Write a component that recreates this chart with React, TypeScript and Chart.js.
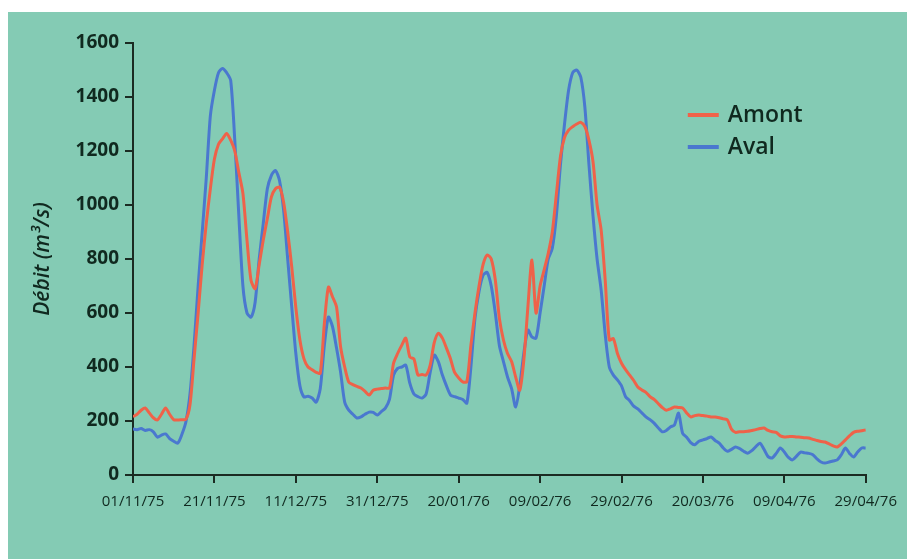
import React, { useEffect, useRef } from "react";
import { Chart, registerables } from "chart.js";

Chart.register(...registerables);

const tickLabels = [
  "01/11/75", "21/11/75", "11/12/75", "31/12/75", "20/01/76",
  "09/02/76", "29/02/76", "20/03/76", "09/04/76", "29/04/76",
];

const yTicks = [0, 200, 400, 600, 800, 1000, 1200, 1400, 1600];

// Daily discharge, 01/11/75 .. 29/04/76 (181 days)
const amont = [
  216, 225, 240, 248, 230, 212, 204, 225, 248, 225,
  205, 204, 205, 206, 260, 430, 600, 780, 932, 1060,
  1170, 1225, 1245, 1265, 1240, 1200, 1120, 1043, 870, 720,
  690, 780, 870, 950, 1030, 1060, 1066, 1010, 900, 770,
  620, 500, 430, 400, 390, 380, 377, 560, 696, 660,
  622, 474, 400, 344, 335, 328, 322, 310, 296, 314,
  318, 320, 322, 322, 414, 450, 480, 507, 437, 430,
  370, 372, 370, 407, 490, 525, 507, 470, 430, 380,
  360, 345, 345, 480, 600, 700, 780, 815, 800, 722,
  580, 500, 450, 420, 363, 314, 425, 622, 796, 600,
  700, 760, 821, 900, 1040, 1180, 1250, 1277, 1290, 1300,
  1306, 1290, 1240, 1160, 1000, 907, 720, 500, 505, 450,
  414, 390, 370, 350, 326, 315, 306, 290, 280, 265,
  250, 240, 245, 252, 250, 248, 230, 215, 220, 222,
  220, 218, 215, 215, 212, 208, 204, 170, 158, 160,
  160, 162, 165, 168, 172, 174, 165, 160, 158, 145,
  141, 142, 143, 141, 140, 138, 137, 132, 128, 124,
  122, 115, 108, 104, 115, 130, 145, 158, 162, 164,
  167,
];

const aval = [
  170, 168, 172, 165, 168, 160, 140, 148, 152, 135,
  125, 118, 150, 197, 300, 480, 700, 900, 1100, 1330,
  1425, 1490, 1506, 1490, 1461, 1240, 960, 700, 600, 585,
  640, 800, 932, 1060, 1110, 1128, 1090, 980, 800, 622,
  450, 330, 289, 292, 285, 270, 320, 480, 585, 550,
  470, 380, 270, 240, 225, 211, 215, 225, 233, 232,
  222, 235, 248, 280, 370, 395, 400, 407, 340, 300,
  290, 285, 300, 380, 444, 420, 370, 330, 296, 290,
  285, 280, 266, 400, 580, 680, 740, 750, 700, 600,
  480, 420, 363, 320, 252, 330, 450, 537, 511, 507,
  600, 700, 800, 840, 960, 1150, 1300, 1425, 1490, 1500,
  1473, 1362, 1150, 960, 800, 685, 520, 400, 370, 352,
  330, 290, 275, 255, 245, 230, 215, 205, 192, 175,
  160, 165, 178, 185, 229, 155, 140, 120, 112, 125,
  130, 135, 141, 128, 118, 100, 88, 95, 104, 98,
  88, 81, 90, 105, 118, 95, 68, 63, 80, 100,
  85, 65, 56, 70, 85, 82, 80, 75, 60, 48,
  44, 48, 52, 56, 75, 100, 80, 67, 85, 100,
  100,
];

const seriesNames = ["Amont", "Aval"];
const seriesColors = ["#ef6249", "#4a78cf"];

const TEXT = "#10291f";
const AXIS = "#1b2b22";
const FONT = "'Open Sans', 'Liberation Sans', sans-serif";

const legendPlugin = {
  id: "customLegend",
  afterDatasetsDraw(chart: any) {
    const { ctx, chartArea } = chart;
    const x0 = chartArea.right - 178;
    const ys = [chartArea.top + 72, chartArea.top + 104];
    ctx.save();
    chart.data.datasets.forEach((ds: any, i: number) => {
      const y = ys[i];
      ctx.strokeStyle = ds.borderColor;
      ctx.lineWidth = 4;
      ctx.beginPath();
      ctx.moveTo(x0, y);
      ctx.lineTo(x0 + 31, y);
      ctx.stroke();
      ctx.fillStyle = TEXT;
      ctx.font = `600 23px ${FONT}`;
      ctx.textAlign = "left";
      ctx.textBaseline = "middle";
      ctx.fillText(ds.label, x0 + 40, y);
    });
    ctx.restore();
  },
};

export default function App() {
  const ref = useRef<HTMLCanvasElement | null>(null);

  useEffect(() => {
    document.body.style.margin = "0";
    const toPts = (arr: number[]) => arr.map((v, i) => ({ x: i, y: v }));
    const chart = new Chart(ref.current as HTMLCanvasElement, {
      type: "line",
      data: {
        datasets: [
          {
            label: seriesNames[0],
            data: toPts(amont),
            borderColor: seriesColors[0],
            borderWidth: 3,
            pointRadius: 0,
            tension: 0.25,
            fill: false,
          },
          {
            label: seriesNames[1],
            data: toPts(aval),
            borderColor: seriesColors[1],
            borderWidth: 3,
            pointRadius: 0,
            tension: 0.25,
            fill: false,
          },
        ],
      },
      options: {
        responsive: false,
        animation: false,
        devicePixelRatio: 1,
        layout: { padding: { left: 0, right: 39, top: 31, bottom: 0 } },
        plugins: { legend: { display: false }, tooltip: { enabled: false } },
        scales: {
          x: {
            type: "linear",
            min: 0,
            max: 180,
            afterFit: (s: any) => { s.height = 84; },
            afterBuildTicks: (s: any) => {
              s.ticks = tickLabels.map((_, i) => ({ value: i * 20 }));
            },
            ticks: {
              autoSkip: false,
              maxRotation: 0,
              padding: 10,
              color: TEXT,
              font: { family: FONT, size: 15, weight: "500" },
              callback: (v: any) => tickLabels[Math.round(Number(v) / 20)] ?? "",
            },
            grid: { drawOnChartArea: false, drawTicks: true, tickLength: 8, color: AXIS, lineWidth: 2 },
            border: { display: true, color: AXIS, width: 2 },
          },
          y: {
            min: 0,
            max: 1600,
            afterFit: (s: any) => { s.width = 125; },
            afterBuildTicks: (s: any) => {
              s.ticks = yTicks.map((v) => ({ value: v }));
            },
            ticks: {
              padding: 6,
              color: TEXT,
              font: { family: FONT, size: 19, weight: "bold" },
              callback: (v: any) => String(v),
            },
            title: {
              display: true,
              text: "Débit (m³/s)",
              color: TEXT,
              font: { family: FONT, size: 21, style: "italic", weight: "600" },
              padding: { top: 22, bottom: 0 },
            },
            grid: { drawOnChartArea: false, drawTicks: true, tickLength: 8, color: AXIS, lineWidth: 2 },
            border: { display: true, color: AXIS, width: 2 },
          },
        },
      },
      plugins: [legendPlugin],
    });
    return () => chart.destroy();
  }, []);

  return (
    <div
      style={{
        position: "absolute",
        left: 8,
        top: 12,
        width: 899,
        height: 547,
        background: "#84cbb4",
        overflow: "hidden",
      }}
    >
      <canvas ref={ref} width={899} height={547} style={{ display: "block" }} />
    </div>
  );
}
